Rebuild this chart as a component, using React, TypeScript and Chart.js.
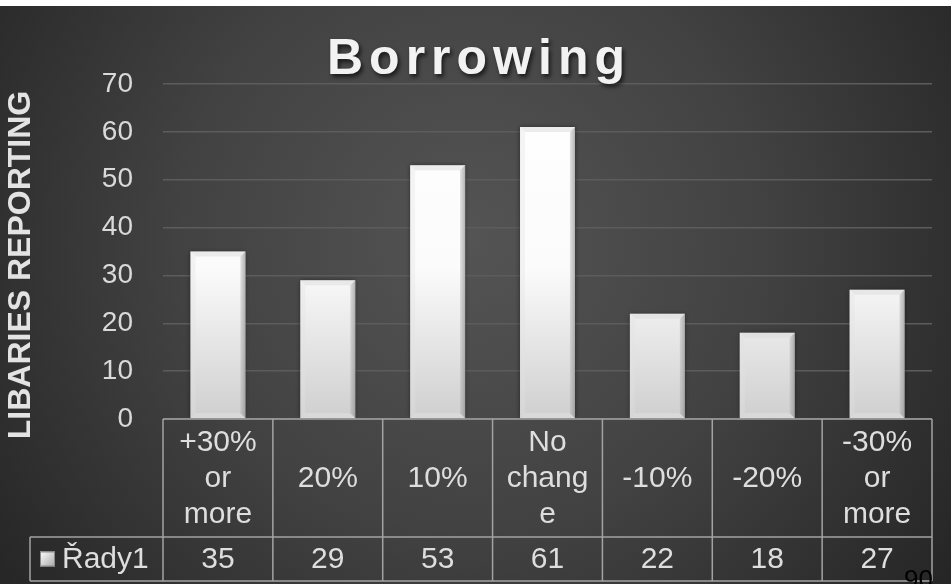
import React, { useEffect, useRef } from "react";
import { Chart, registerables } from "chart.js";

Chart.register(...registerables);

const chartTitle = "Borrowing";
const yAxisTitle = "LIBARIES REPORTING";
const seriesName = "Řady1";
const pageNumber = "90";
const categories: string[][] = [
  ["+30%", "or", "more"],
  ["20%"],
  ["10%"],
  ["No", "chang", "e"],
  ["-10%"],
  ["-20%"],
  ["-30%", "or", "more"],
];
const values: number[] = [35, 29, 53, 61, 22, 18, 27];
const yMin = 0;
const yMax = 70;
const yStep = 10;

const FONT = "'Liberation Sans', Arial, sans-serif";

export default function App() {
  const ref = useRef<HTMLCanvasElement | null>(null);

  useEffect(() => {
    document.body.style.margin = "0";
    const canvas = ref.current;
    if (!canvas) return;

    const bgPlugin = {
      id: "bg",
      beforeDraw(chart: any) {
        const ctx = chart.ctx;
        const w = chart.width;
        const h = chart.height;
        ctx.save();
        ctx.fillStyle = "#ffffff";
        ctx.fillRect(0, 0, w, h);
        const g = ctx.createRadialGradient(470, 240, 0, 470, 240, 580);
        g.addColorStop(0, "#545454");
        g.addColorStop(0.5, "#424242");
        g.addColorStop(1, "#262626");
        ctx.fillStyle = g;
        ctx.fillRect(0, 6, w, h - 6);
        ctx.restore();
      },
    };

    const barShadowPlugin = {
      id: "barShadow",
      beforeDatasetsDraw(chart: any) {
        const ctx = chart.ctx;
        ctx.save();
        ctx.shadowColor = "rgba(0,0,0,0.5)";
        ctx.shadowBlur = 5;
        ctx.shadowOffsetX = 0;
        ctx.shadowOffsetY = 0;
      },
      afterDatasetsDraw(chart: any) {
        const ctx = chart.ctx;
        ctx.restore();
        const meta = chart.getDatasetMeta(0);
        ctx.save();
        meta.data.forEach((bar: any) => {
          const left = bar.x - bar.width / 2;
          const right = bar.x + bar.width / 2;
          const top = bar.y;
          const bottom = bar.base;
          const b = 5;
          ctx.fillStyle = "rgba(215,215,215,0.45)";
          ctx.beginPath();
          ctx.moveTo(left, top);
          ctx.lineTo(right, top);
          ctx.lineTo(right - b, top + b);
          ctx.lineTo(left + b, top + b);
          ctx.closePath();
          ctx.fill();
          ctx.fillStyle = "rgba(225,225,225,0.35)";
          ctx.beginPath();
          ctx.moveTo(left, top);
          ctx.lineTo(left + b, top + b);
          ctx.lineTo(left + b, bottom - b);
          ctx.lineTo(left, bottom);
          ctx.closePath();
          ctx.fill();
          const rg = ctx.createLinearGradient(right - b, 0, right, 0);
          rg.addColorStop(0, "rgba(170,170,170,0.35)");
          rg.addColorStop(1, "rgba(130,130,130,0.6)");
          ctx.fillStyle = rg;
          ctx.beginPath();
          ctx.moveTo(right, top);
          ctx.lineTo(right - b, top + b);
          ctx.lineTo(right - b, bottom - b);
          ctx.lineTo(right, bottom);
          ctx.closePath();
          ctx.fill();
          ctx.fillStyle = "rgba(235,235,235,0.35)";
          ctx.beginPath();
          ctx.moveTo(left, bottom);
          ctx.lineTo(left + b, bottom - b);
          ctx.lineTo(right - b, bottom - b);
          ctx.lineTo(right, bottom);
          ctx.closePath();
          ctx.fill();
        });
        ctx.restore();
      },
    };

    const overlayPlugin = {
      id: "overlay",
      afterDraw(chart: any) {
        const ctx = chart.ctx;
        const xs = chart.scales.x;
        const area = chart.chartArea;
        const n = categories.length;
        const cw = (xs.right - xs.left) / n;
        const headTop = area.bottom;
        const headBottom = headTop + 118;
        const rowBottom = headBottom + 44;
        const legendLeft = 30;

        ctx.save();
        ctx.save();
        ctx.font = `bold 50px ${FONT}`;
        (ctx as any).letterSpacing = "6px";
        ctx.textAlign = "center";
        ctx.textBaseline = "alphabetic";
        ctx.shadowColor = "rgba(0,0,0,0.65)";
        ctx.shadowBlur = 4;
        ctx.shadowOffsetX = 2;
        ctx.shadowOffsetY = 3;
        ctx.fillStyle = "#f2f2f2";
        ctx.fillText(chartTitle, 479, 74);
        ctx.restore();

        ctx.save();
        ctx.translate(21, 265);
        ctx.rotate(-Math.PI / 2);
        ctx.font = `bold 32px ${FONT}`;
        ctx.textAlign = "center";
        ctx.textBaseline = "middle";
        ctx.fillStyle = "#e3e3e3";
        ctx.fillText(yAxisTitle, 0, 0);
        ctx.restore();

        ctx.strokeStyle = "#a3a3a3";
        ctx.lineWidth = 1.5;
        ctx.beginPath();
        ctx.moveTo(xs.left, headTop);
        ctx.lineTo(xs.right, headTop);
        ctx.moveTo(legendLeft, headBottom);
        ctx.lineTo(xs.right, headBottom);
        ctx.moveTo(legendLeft, rowBottom);
        ctx.lineTo(xs.right, rowBottom);
        ctx.moveTo(legendLeft, headBottom);
        ctx.lineTo(legendLeft, rowBottom);
        for (let i = 0; i <= n; i++) {
          const x = i < n ? xs.getPixelForValue(i) - cw / 2 : xs.getPixelForValue(n - 1) + cw / 2;
          ctx.moveTo(x, headTop);
          ctx.lineTo(x, rowBottom);
        }
        ctx.stroke();

        ctx.fillStyle = "#dedede";
        ctx.font = `30px ${FONT}`;
        ctx.textAlign = "center";
        ctx.textBaseline = "middle";
        const lh = 36;
        const hc = (headTop + headBottom) / 2;
        categories.forEach((lines, i) => {
          const cx = xs.getPixelForValue(i);
          const start = hc - ((lines.length - 1) * lh) / 2;
          lines.forEach((ln, j) => ctx.fillText(ln, cx, start + j * lh + 1));
        });
        const vc = (headBottom + rowBottom) / 2;
        values.forEach((v, i) => {
          ctx.fillText(String(v), xs.getPixelForValue(i), vc + 1);
        });
        const sq = 15;
        const sx = 40;
        const sy = vc - sq / 2;
        const lg = ctx.createLinearGradient(sx, sy, sx + sq, sy + sq);
        lg.addColorStop(0, "#ffffff");
        lg.addColorStop(1, "#a8a8a8");
        ctx.fillStyle = lg;
        ctx.fillRect(sx, sy, sq, sq);
        ctx.strokeStyle = "#8a8a8a";
        ctx.lineWidth = 1;
        ctx.strokeRect(sx + 0.5, sy + 0.5, sq - 1, sq - 1);
        ctx.fillStyle = "#dedede";
        ctx.textAlign = "left";
        ctx.fillText(seriesName, 62, vc + 1);

        ctx.fillStyle = "#000000";
        ctx.font = `26px ${FONT}`;
        ctx.textAlign = "right";
        ctx.textBaseline = "alphabetic";
        ctx.fillText(pageNumber, 933, 588);
        ctx.restore();
      },
    };

    const ctx2 = canvas.getContext("2d")!;
    const barGrad = ctx2.createLinearGradient(0, 84, 0, 419);
    barGrad.addColorStop(0, "#ffffff");
    barGrad.addColorStop(0.55, "#fbfbfb");
    barGrad.addColorStop(1, "#cfcfcf");

    const chart = new Chart(canvas, {
      type: "bar",
      data: {
        labels: categories.map((c) => c.join(" ")),
        datasets: [
          {
            label: seriesName,
            data: values,
            backgroundColor: barGrad,
            borderWidth: 0,
            categoryPercentage: 1,
            barPercentage: 0.5,
          },
        ],
      },
      options: {
        responsive: false,
        animation: false,
        devicePixelRatio: 1,
        layout: { padding: { top: 84, left: 0, right: 19, bottom: 0 } },
        plugins: {
          legend: { display: false },
          tooltip: { enabled: false },
          title: { display: false },
        },
        scales: {
          x: {
            grid: { display: false },
            border: { display: false },
            ticks: { display: false },
            afterFit: (s: any) => {
              s.height = 165;
            },
          },
          y: {
            min: yMin,
            max: yMax,
            ticks: {
              stepSize: yStep,
              color: "#d9d9d9",
              font: { size: 28, family: FONT },
              padding: 30,
            },
            grid: { color: "#5c5c5c", lineWidth: 1.5, drawTicks: false },
            border: { display: false },
            afterFit: (s: any) => {
              s.width = 163;
            },
          },
        },
      },
      plugins: [bgPlugin, barShadowPlugin, overlayPlugin],
    });

    return () => chart.destroy();
  }, []);

  return (
    <div style={{ width: 951, height: 584 }}>
      <canvas ref={ref} width={951} height={584} style={{ display: "block" }} />
    </div>
  );
}
